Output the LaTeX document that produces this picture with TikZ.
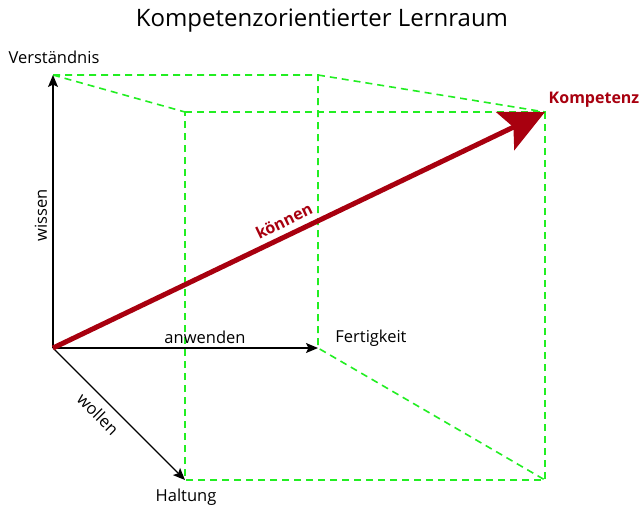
\documentclass[tikz,border=0pt]{standalone}
\usepackage{fontspec}
\setmainfont{Open Sans}
\usetikzlibrary{arrows.meta}
\definecolor{kgreen}{HTML}{22EE22}
\definecolor{kred}{HTML}{A8000F}
\begin{document}
\begin{tikzpicture}[x=1pt,y=-1pt,
  cube/.style={kgreen,line width=1.6pt,dash pattern=on 7pt off 5pt},
  axis/.style={black,line width=1.1pt,-{Stealth[length=12pt,width=10pt,inset=2.5pt]}},
  lbl/.style={font=\fontsize{16.5}{19}\selectfont,inner sep=1pt},
  comp/.style={kred,line width=5pt,-{Stealth[length=44pt,width=42pt,inset=9pt]}}]
\useasboundingbox (0,0) rectangle (643,507);
\coordinate (O) at (53,348);
\coordinate (V) at (53,75);
\coordinate (BR) at (318,75);
\coordinate (F) at (318,348);
\coordinate (H) at (185,480);
\coordinate (FTL) at (185,112);
\coordinate (K) at (545,112);
\coordinate (FBR) at (545,480);
% cube
\draw[cube] (V) -- (BR) -- (F) -- (FBR);
\draw[cube] (V) -- (FTL);
\draw[cube] (BR) -- (K);
\draw[cube] (FTL) -- (K) -- (FBR) -- (H) -- (FTL);
% axes
\draw[axis] (O) -- (V);
\draw[axis] (O) -- (F);
\draw[axis] (O) -- (H);
\draw[comp] (O) -- (K);
% labels
\node[font=\fontsize{24}{28}\selectfont] (title) at (322,21) {Kompetenzorientierter Lernraum};
\node[lbl] (lv) at (54,57) {Verständnis};
\node[lbl,rotate=90] (lw) at (41,215) {wissen};
\node[lbl] (la) at (205,337) {anwenden};
\node[lbl] (lf) at (371,338) {Fertigkeit};
\node[lbl,rotate=-45] (lwo) at (98,414) {wollen};
\node[lbl] (lh) at (186,497) {Haltung};
\node[lbl,font=\fontsize{16}{19}\selectfont\bfseries,text=kred] (lk) at (594,100) {Kompetenz};
\node[lbl,font=\fontsize{16}{19}\selectfont\bfseries,text=kred,rotate=25.6] (lko) at (284,221) {können};
\end{tikzpicture}
\end{document}
